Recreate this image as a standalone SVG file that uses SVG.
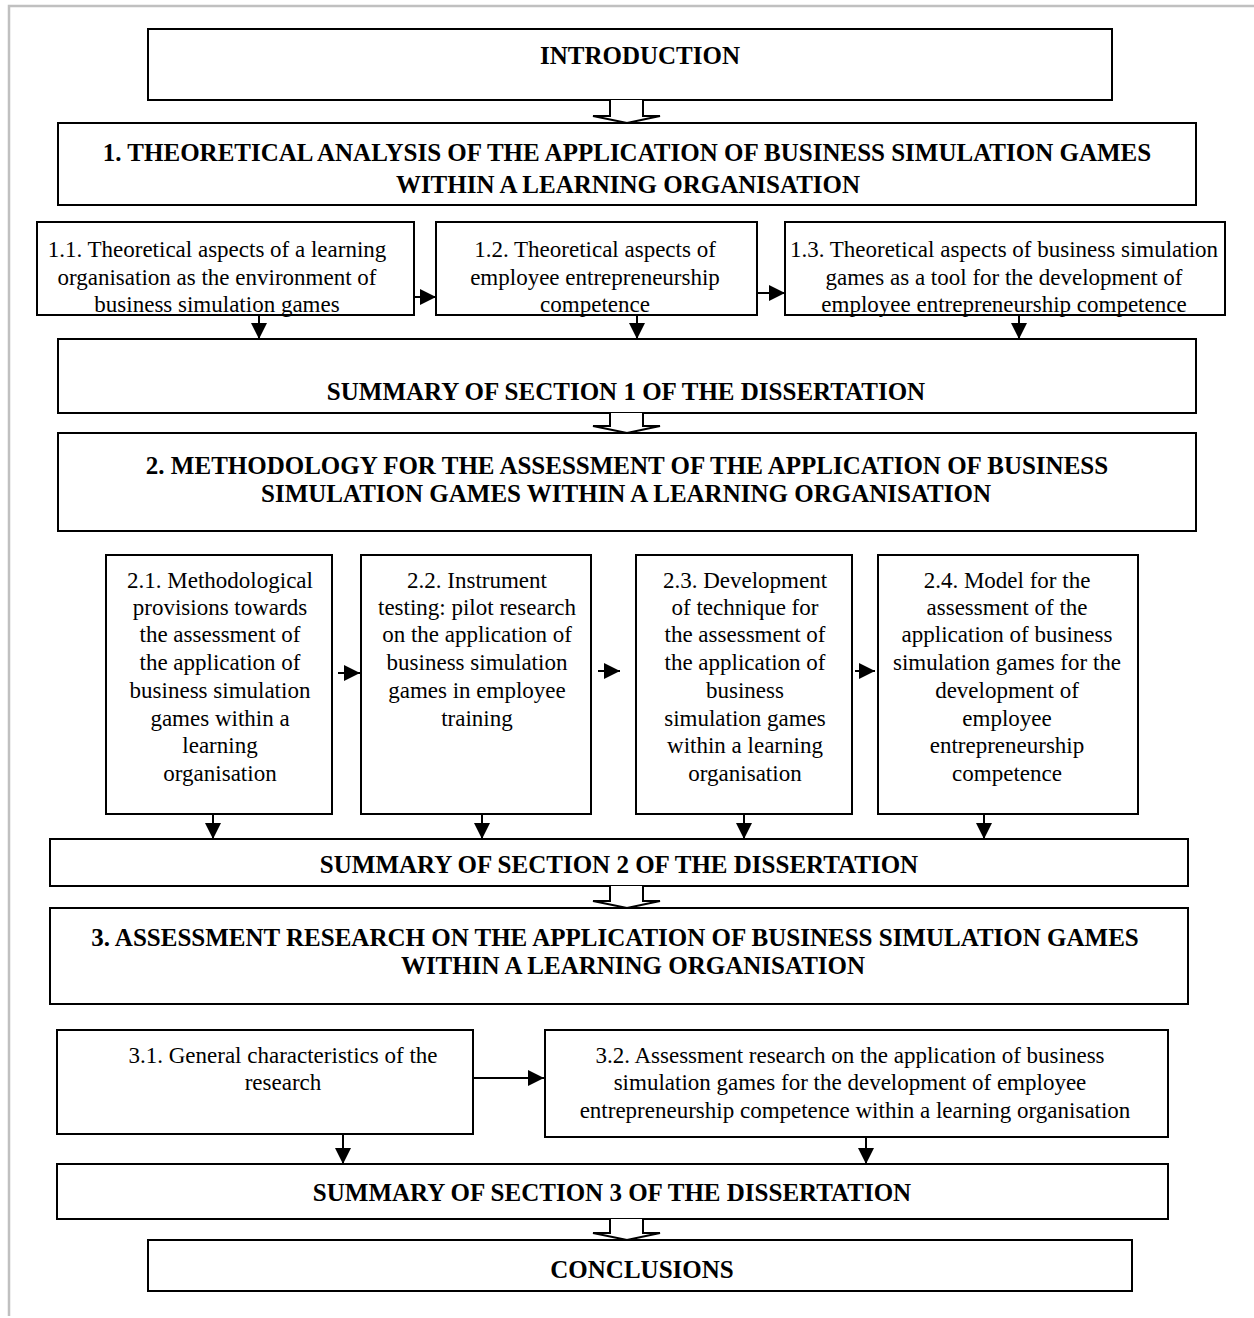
<svg xmlns="http://www.w3.org/2000/svg" width="1254" height="1318" viewBox="0 0 1254 1318">
  <style>
    .box { fill: #fff; stroke: #000; stroke-width: 2; }
    .h { font-family: "Liberation Serif", "Times New Roman", serif; font-size: 25px; font-weight: bold; text-anchor: middle; fill: #000; }
    .t { font-family: "Liberation Serif", "Times New Roman", serif; font-size: 23px; text-anchor: middle; fill: #000; }
    .arr { fill: none; stroke: #000; stroke-width: 2; marker-end: url(#head); }
    .hollow { fill: #fff; stroke: #000; stroke-width: 2; stroke-linejoin: miter; }
  </style>
  <defs>
    <marker id="head" viewBox="0 0 10 10" refX="10" refY="5" markerWidth="8" markerHeight="8" markerUnits="strokeWidth" orient="auto">
      <path d="M0,0 L10,5 L0,10 Z" fill="#000"/>
    </marker>
  </defs>

  <!-- page frame -->
  <path d="M9,1316 V6 H1254" fill="none" stroke="#c0c0c0" stroke-width="2.5"/>

  <g id="intro">
    <rect class="box" x="148" y="29" width="964" height="71"/>
    <text class="h" x="640" y="64">INTRODUCTION</text>
  </g>

  <g id="section1">
    <rect class="box" x="58" y="123" width="1138" height="82"/>
    <text class="h" x="627" y="161">1. THEORETICAL ANALYSIS OF THE APPLICATION OF BUSINESS SIMULATION GAMES</text>
    <text class="h" x="628" y="193">WITHIN A LEARNING ORGANISATION</text>
  </g>

  <g id="s1-1">
    <rect class="box" x="37" y="222" width="377" height="93"/>
    <text class="t" x="217" y="257">1.1. Theoretical aspects of a learning</text>
    <text class="t" x="217" y="285">organisation as the environment of</text>
    <text class="t" x="217" y="312">business simulation games</text>
  </g>

  <g id="s1-2">
    <rect class="box" x="436" y="222" width="321" height="93"/>
    <text class="t" x="595" y="257">1.2. Theoretical aspects of</text>
    <text class="t" x="595" y="285">employee entrepreneurship</text>
    <text class="t" x="595" y="312">competence</text>
  </g>

  <g id="s1-3">
    <rect class="box" x="785" y="222" width="440" height="93"/>
    <text class="t" x="1004" y="257">1.3. Theoretical aspects of business simulation</text>
    <text class="t" x="1004" y="285">games as a tool for the development of</text>
    <text class="t" x="1004" y="312">employee entrepreneurship competence</text>
  </g>

  <g id="summary1">
    <rect class="box" x="58" y="339" width="1138" height="74"/>
    <text class="h" x="626" y="400">SUMMARY OF SECTION 1 OF THE DISSERTATION</text>
  </g>

  <g id="section2">
    <rect class="box" x="58" y="433" width="1138" height="98"/>
    <text class="h" x="627" y="474">2. METHODOLOGY FOR THE ASSESSMENT OF THE APPLICATION OF BUSINESS</text>
    <text class="h" x="626" y="502">SIMULATION GAMES WITHIN A LEARNING ORGANISATION</text>
  </g>

  <g id="s2-1">
    <rect class="box" x="106" y="555" width="226" height="259"/>
    <text class="t" x="220" y="588">2.1. Methodological</text>
    <text class="t" x="220" y="615">provisions towards</text>
    <text class="t" x="220" y="642">the assessment of</text>
    <text class="t" x="220" y="670">the application of</text>
    <text class="t" x="220" y="698">business simulation</text>
    <text class="t" x="220" y="726">games within a</text>
    <text class="t" x="220" y="753">learning</text>
    <text class="t" x="220" y="781">organisation</text>
  </g>

  <g id="s2-2">
    <rect class="box" x="361" y="555" width="230" height="259"/>
    <text class="t" x="477" y="588">2.2. Instrument</text>
    <text class="t" x="477" y="615">testing: pilot research</text>
    <text class="t" x="477" y="642">on the application of</text>
    <text class="t" x="477" y="670">business simulation</text>
    <text class="t" x="477" y="698">games in employee</text>
    <text class="t" x="477" y="726">training</text>
  </g>

  <g id="s2-3">
    <rect class="box" x="636" y="555" width="216" height="259"/>
    <text class="t" x="745" y="588">2.3. Development</text>
    <text class="t" x="745" y="615">of technique for</text>
    <text class="t" x="745" y="642">the assessment of</text>
    <text class="t" x="745" y="670">the application of</text>
    <text class="t" x="745" y="698">business</text>
    <text class="t" x="745" y="726">simulation games</text>
    <text class="t" x="745" y="753">within a learning</text>
    <text class="t" x="745" y="781">organisation</text>
  </g>

  <g id="s2-4">
    <rect class="box" x="878" y="555" width="260" height="259"/>
    <text class="t" x="1007" y="588">2.4. Model for the</text>
    <text class="t" x="1007" y="615">assessment of the</text>
    <text class="t" x="1007" y="642">application of business</text>
    <text class="t" x="1007" y="670">simulation games for the</text>
    <text class="t" x="1007" y="698">development of</text>
    <text class="t" x="1007" y="726">employee</text>
    <text class="t" x="1007" y="753">entrepreneurship</text>
    <text class="t" x="1007" y="781">competence</text>
  </g>

  <g id="summary2">
    <rect class="box" x="50" y="839" width="1138" height="47"/>
    <text class="h" x="619" y="873">SUMMARY OF SECTION 2 OF THE DISSERTATION</text>
  </g>

  <g id="section3">
    <rect class="box" x="50" y="908" width="1138" height="96"/>
    <text class="h" x="615" y="946">3. ASSESSMENT RESEARCH ON THE APPLICATION OF BUSINESS SIMULATION GAMES</text>
    <text class="h" x="633" y="974">WITHIN A LEARNING ORGANISATION</text>
  </g>

  <g id="s3-1">
    <rect class="box" x="57" y="1030" width="416" height="104"/>
    <text class="t" x="283" y="1063">3.1. General characteristics of the</text>
    <text class="t" x="283" y="1090">research</text>
  </g>

  <g id="s3-2">
    <rect class="box" x="545" y="1030" width="623" height="107"/>
    <text class="t" x="850" y="1063">3.2. Assessment research on the application of business</text>
    <text class="t" x="850" y="1090">simulation games for the development of employee</text>
    <text class="t" x="855" y="1118">entrepreneurship competence within a learning organisation</text>
  </g>

  <g id="summary3">
    <rect class="box" x="57" y="1164" width="1111" height="55"/>
    <text class="h" x="612" y="1201">SUMMARY OF SECTION 3 OF THE DISSERTATION</text>
  </g>

  <g id="conclusions">
    <rect class="box" x="148" y="1240" width="984" height="51"/>
    <text class="h" x="642" y="1278">CONCLUSIONS</text>
  </g>

  <g id="connectors">
    <!-- hollow block arrows between stages -->
    <path class="hollow" d="M610,100 V116 H593 L627,123 L660,116 H643 V100"/>
    <path class="hollow" d="M610,413 V426 H593 L627,433 L660,426 H643 V413"/>
    <path class="hollow" d="M610,886 V901 H593 L627,908 L660,901 H643 V886"/>
    <path class="hollow" d="M610,1219 V1233 H593 L627,1240 L660,1233 H643 V1219"/>

    <!-- section 1 -->
    <line class="arr" x1="414" y1="297" x2="436" y2="297"/>
    <line class="arr" x1="757" y1="293" x2="785" y2="293"/>
    <line class="arr" x1="259" y1="315" x2="259" y2="339"/>
    <line class="arr" x1="637" y1="315" x2="637" y2="339"/>
    <line class="arr" x1="1019" y1="315" x2="1019" y2="339"/>

    <!-- section 2 -->
    <line class="arr" x1="338" y1="673" x2="360" y2="673"/>
    <line class="arr" x1="598" y1="671" x2="620" y2="671"/>
    <line class="arr" x1="855" y1="671" x2="875" y2="671"/>
    <line class="arr" x1="213" y1="814" x2="213" y2="839"/>
    <line class="arr" x1="482" y1="814" x2="482" y2="839"/>
    <line class="arr" x1="744" y1="814" x2="744" y2="839"/>
    <line class="arr" x1="984" y1="814" x2="984" y2="839"/>

    <!-- section 3 -->
    <line class="arr" x1="473" y1="1078" x2="544" y2="1078"/>
    <line class="arr" x1="343" y1="1134" x2="343" y2="1164"/>
    <line class="arr" x1="866" y1="1137" x2="866" y2="1164"/>
  </g>
</svg>
